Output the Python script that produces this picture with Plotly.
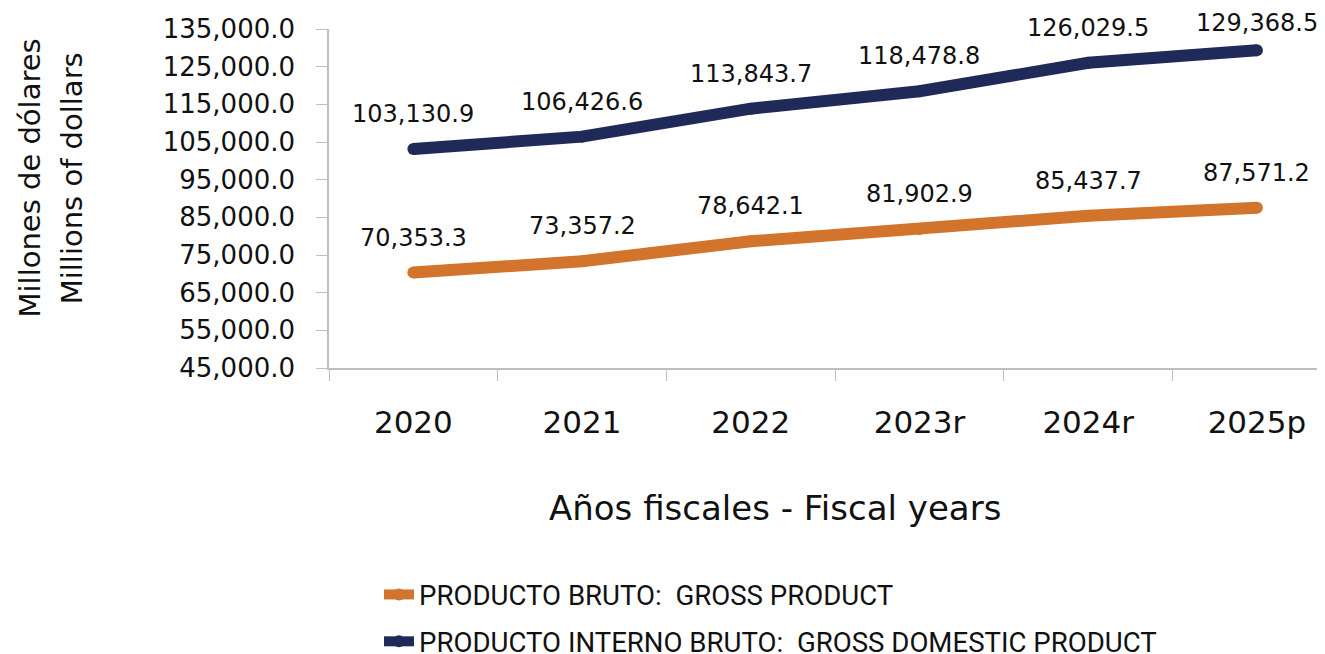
import plotly.graph_objects as go

years = ["2020", "2021", "2022", "2023r", "2024r", "2025p"]
gross_product = [70353.3, 73357.2, 78642.1, 81902.9, 85437.7, 87571.2]
gdp = [103130.9, 106426.6, 113843.7, 118478.8, 126029.5, 129368.5]
y_ticks = [45000, 55000, 65000, 75000, 85000, 95000, 105000, 115000, 125000, 135000]
y_title_lines = ["Millones de dólares", "Millions of dollars"]
x_title = "Años fiscales - Fiscal years"

ORANGE = "#D2742B"
NAVY = "#1F2A58"
FONT = "DejaVu Sans"
TXT = "#111111"

Y_MIN, Y_MAX = 45000, 135000
PLOT_TOP = 21   # top margin in px
PLOT_H = 339    # plot-area height in px (654 - 21 - 294)

fig = go.Figure()
series = [
    ("PRODUCTO BRUTO:  GROSS PRODUCT", gross_product, ORANGE, "g1"),
    ("PRODUCTO INTERNO BRUTO:  GROSS DOMESTIC PRODUCT", gdp, NAVY, "g2"),
]
for name, vals, col, grp in series:
    fig.add_trace(go.Scatter(
        x=years, y=vals, name=name, mode="lines+markers",
        line=dict(color=col, width=12),
        marker=dict(color=col, size=12),
        legendgroup=grp, cliponaxis=False,
    ))
    for i, yv in enumerate(vals):
        # keep the label inside the chart's top edge (as the original does)
        point_px = PLOT_TOP + (Y_MAX - yv) / (Y_MAX - Y_MIN) * PLOT_H
        shift = min(35, point_px - 15)
        fig.add_annotation(
            x=i, y=yv, text=f"{yv:,.1f}", showarrow=False,
            yshift=shift, font=dict(family=FONT, size=24, color=TXT),
        )

# y-axis title (two stacked lines)
for xp, line in zip([-0.2978, -0.2552], y_title_lines):
    fig.add_annotation(
        xref="paper", yref="paper", x=xp, y=0.559, text=line,
        textangle=-90, showarrow=False, xanchor="center", yanchor="middle",
        font=dict(family=FONT, size=29, color=TXT),
    )

# x-axis title
fig.add_annotation(
    xref="paper", yref="paper", x=0.444, y=-0.413, text=x_title,
    showarrow=False, xanchor="center", yanchor="middle",
    font=dict(family=FONT, size=34, color=TXT),
)

fig.update_layout(
    width=1325, height=654,
    margin=dict(l=321, r=0, t=PLOT_TOP, b=294, autoexpand=False),
    plot_bgcolor="white", paper_bgcolor="white",
    font=dict(family=FONT, color=TXT),
    legend=dict(
        xref="container", yref="container",
        x=371 / 1325, y=1 - 562 / 654, xanchor="left", yanchor="top",
        font=dict(family="Roboto", size=27.6, color=TXT),
        tracegroupgap=8, bgcolor="rgba(0,0,0,0)",
    ),
    showlegend=True,
)
fig.update_xaxes(
    type="category", range=[-0.5, 5.451], automargin=False,
    showline=True, linecolor="#BFBFBF", linewidth=1.5,
    ticks="outside", tickson="boundaries", ticklen=11, tickcolor="#BFBFBF",
    tickfont=dict(family=FONT, size=31, color=TXT), tickangle=0,
    ticklabelstandoff=26,
    showgrid=False, zeroline=False,
)
fig.update_yaxes(
    range=[Y_MIN, Y_MAX], tickvals=y_ticks, tickformat=",.1f", automargin=False,
    showline=True, linecolor="#BFBFBF", linewidth=1.5,
    ticks="outside", ticklen=11, tickcolor="#BFBFBF",
    tickfont=dict(family=FONT, size=26, color=TXT),
    ticklabelstandoff=16,
    showgrid=False, zeroline=False,
)

fig.write_html("out.html")
